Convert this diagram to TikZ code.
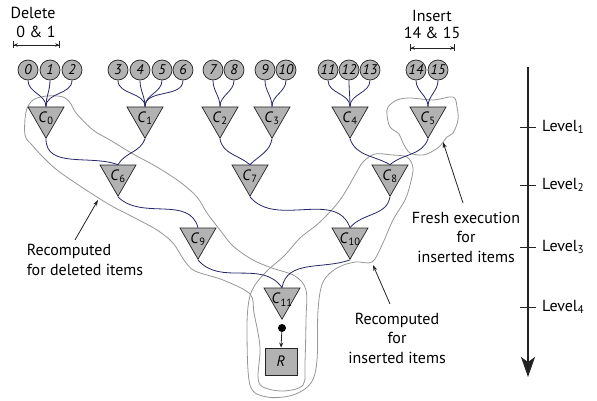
\documentclass[tikz,border=0pt]{standalone}
\usepackage{fontspec}
\setmainfont{PT Sans}
\usetikzlibrary{shapes.geometric,arrows.meta}
\definecolor{nodefill}{RGB}{178,178,178}
\definecolor{navy}{RGB}{38,38,105}
\definecolor{blobgray}{RGB}{150,150,150}
\definecolor{ink}{RGB}{35,35,35}
\begin{document}
\begin{tikzpicture}[x=1pt,y=1pt,
  item/.style={circle,draw=ink,fill=nodefill,line width=0.7pt,minimum size=20pt,inner sep=0pt,font=\fontsize{14}{14}\selectfont\itshape},
  comb/.style={regular polygon,regular polygon sides=3,shape border rotate=180,draw=ink,fill=nodefill,line width=0.7pt,minimum size=41.6pt,inner sep=0pt,
     label={[font=\fontsize{15}{15}\selectfont,inner sep=0pt,yshift=-1pt]center:\textit{C}\textsubscript{#1}}},
  link/.style={draw=navy,line width=0.8pt},
  blob/.style={draw=blobgray,line width=0.8pt},
  lbl/.style={font=\fontsize{16}{19.5}\selectfont,align=center,inner sep=0pt},
  note/.style={-{Stealth[length=6pt,width=4pt]},line width=0.8pt,draw=ink},
  span/.style={{Bar[width=7pt]Stealth[length=4pt,width=3.5pt]}-{Stealth[length=4pt,width=3.5pt]Bar[width=7pt]},line width=0.7pt,draw=ink},
  lvl/.style={font=\fontsize{16}{16}\selectfont,anchor=west,inner sep=0pt}
]
\useasboundingbox (0,0) rectangle (597,-401);

% gray outlines
\begin{scope}[yscale=-1]
\draw[blob] plot[smooth cycle,tension=0.55] coordinates {
 (25,135) (26,112) (33,100) (47,96) (63,97) (71,104) (76,113) (93,130) (110,140)
 (133,154) (157,167) (180,182) (197,197) (207,213) (220,230) (233,246) (253,260)
 (272,268) (295,276) (306,290) (306,320) (305,362) (303,385) (283,391) (263,387)
 (258,377) (260,347) (254,313) (250,294) (223,280) (195,271) (184,260) (173,243)
 (157,230) (133,217) (110,205) (83,188) (57,170) (43,157) (32,145)};
\draw[blob] plot[smooth cycle,tension=0.55] coordinates {
 (255,285) (267,271) (285,255) (300,238) (320,222) (340,200) (355,175) (363,162)
 (375,154) (392,155) (407,157) (413,168) (410,185) (405,200) (393,220) (382,245)
 (372,262) (355,262) (337,268) (323,282) (318,310) (317,360) (311,383) (293,395)
 (267,397) (250,385) (247,330) (249,300)};
\draw[blob] plot[smooth cycle,tension=0.55] coordinates {
 (388,107) (397,100) (410,98) (433,100) (453,97) (457,107) (458,120) (453,133)
 (447,137) (440,146) (433,151) (423,155) (410,153) (403,143) (399,134) (390,127) (387,115)};
\end{scope}

% items
\foreach \n/\x in {0/28,1/50,2/72,3/118,4/140,5/162,6/183,7/213,8/234,9/265,10/286,11/328,12/349,13/370,14/416,15/438}
  \node[item] (i\n) at (\x,-70) {\n};

% combiners
\node[comb=0] (c0) at (46,-117.4) {};
\node[comb=1] (c1) at (145,-117.4) {};
\node[comb=2] (c2) at (220,-117.4) {};
\node[comb=3] (c3) at (272,-117.4) {};
\node[comb=4] (c4) at (350,-117.4) {};
\node[comb=5] (c5) at (428,-117.4) {};
\node[comb=6] (c6) at (118,-175.4) {};
\node[comb=7] (c7) at (250,-175.4) {};
\node[comb=8] (c8) at (390,-175.4) {};
\node[comb=9] (c9) at (198,-238.4) {};
\node[comb=10] (c10) at (350,-238.4) {};
\node[comb=11] (c11) at (282,-298.4) {};
\node[circle,fill=black,minimum size=8pt,inner sep=0pt] (dot) at (282,-328) {};
\node[rectangle,draw=ink,fill=nodefill,line width=0.7pt,minimum width=32pt,minimum height=27pt,inner sep=0pt,font=\fontsize{15}{15}\selectfont\itshape] (R) at (281,-361.5) {R};
\draw[-{Stealth[length=5pt,width=4pt]},line width=0.8pt,draw=ink] (dot) -- (R.north);

% item links
\foreach \a/\b in {i0/c0,i1/c0,i2/c0,i3/c1,i4/c1,i5/c1,i6/c1,i7/c2,i8/c2,i9/c3,i10/c3,i11/c4,i12/c4,i13/c4,i14/c5,i15/c5}
  \draw[link] (\a.south) to[out=-90,in=90] (\b.north);

% tree links
\draw[link] (c0.south) to[out=-90,in=160] (c6.north);
\draw[link] (c1.south) to[out=-110,in=60] (c6.north);
\draw[link] (c2.south) to[out=-80,in=140] (c7.north);
\draw[link] (c3.south) to[out=-100,in=45] (c7.north);
\draw[link] (c4.south) to[out=-70,in=150] (c8.north);
\draw[link] (c5.south) to[out=-110,in=40] (c8.north);
\draw[link] (c6.south) to[out=-45,in=105] (c9.north);
\draw[link] (c7.south) to[out=-50,in=110] (c10.north);
\draw[link] (c8.south) to[out=-100,in=50] (c10.north);
\draw[link] (c9.south) to[out=-50,in=125] (c11.north);
\draw[link] (c10.south) to[out=-160,in=80] (c11.north);

% top labels
\node[lbl] (del) at (33,-13) {Delete};
\node[lbl] (del2) at (36,-32) {0 \& 1};
\coordinate (dl) at (13,-45);
\coordinate (dr) at (60,-45);
\draw[span] (dl) -- (dr);
\node[lbl] (ins) at (432,-16) {Insert};
\node[lbl] (ins2) at (432,-33) {14 \& 15};
\coordinate (il) at (410,-48);
\coordinate (ir) at (455,-48);
\draw[span] (il) -- (ir);

% notes
\node[lbl,align=left] (nd) at (85,-260) {Recomputed\\for deleted items};
\coordinate (ndt) at (98,-200);
\draw[note] (75,-240) -- (ndt);
\node[lbl] (nf) at (466,-237) {Fresh execution\\for\\inserted items};
\coordinate (nft) at (443,-142);
\draw[note] (463,-203) -- (nft);
\node[lbl] (ni) at (397,-338) {Recomputed\\for\\inserted items};
\coordinate (nit) at (373,-265);
\draw[note] (390,-304) -- (nit);

% level axis
\coordinate (atop) at (528,-67);
\coordinate (abot) at (528,-377);
\draw[ink,line width=1.3pt,-{Stealth[length=20pt,width=14pt,inset=5pt]}] (atop) -- (abot);
\foreach \k/\y in {1/127,2/185,3/247,4/307}{
  \draw[ink,line width=0.9pt] (520,-\y) -- (536,-\y);
  \node[lvl] (L\k) at (542,-\y) {Level\textsubscript{\k}};
}
\end{tikzpicture}
\end{document}
